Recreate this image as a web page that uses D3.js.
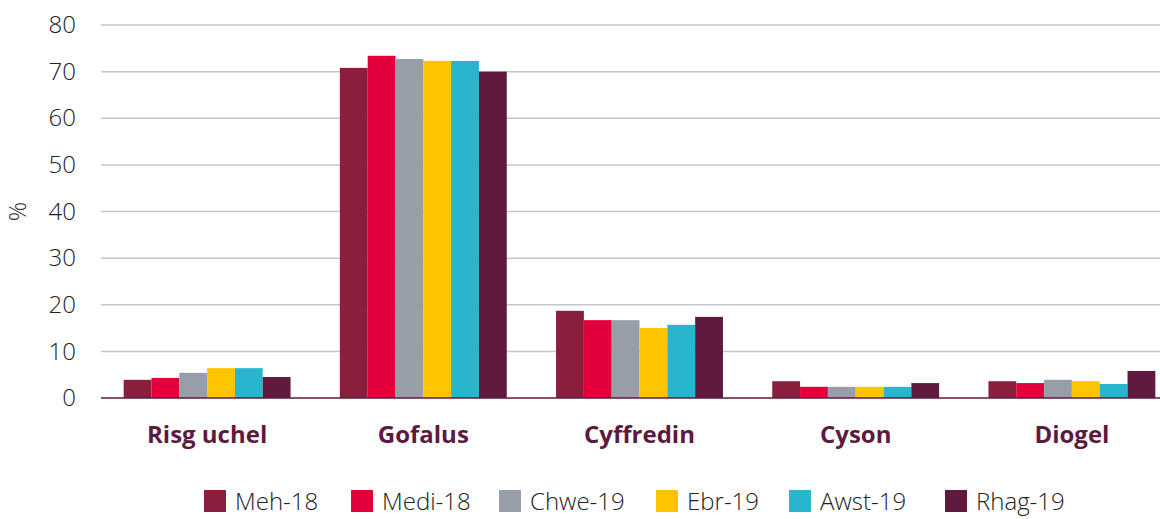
<!doctype html>
<html>
<head>
  <meta charset="utf-8">
  <title>Risg</title>
  <style>
    body { margin: 0; background: #fff; font-family: 'Open Sans', sans-serif; }
    .y-axis text { font-size: 24px; font-weight: 300; fill: #222; font-family: 'Open Sans', sans-serif; }
    .x-axis text { font-size: 24px; font-weight: 700; fill: #5e1a3e; font-family: 'Open Sans', sans-serif; }
    .legend text { font-size: 24px; font-weight: 300; fill: #222; }
  </style>
</head>
<body>
  <div id="chart"></div>
  <script src="https://cdnjs.cloudflare.com/ajax/libs/d3/7.8.5/d3.min.js"></script>
  <script>
    var categories = ["Risg uchel", "Gofalus", "Cyffredin", "Cyson", "Diogel"];
    var series = ["Meh-18", "Medi-18", "Chwe-19", "Ebr-19", "Awst-19", "Rhag-19"];
    var colors = ["#8a1f3d", "#e4003b", "#979ea9", "#ffc400", "#29b5ce", "#601a40"];
    var meh18  = [3.9, 70.8, 18.7, 3.6, 3.6];
    var medi18 = [4.3, 73.4, 16.7, 2.4, 3.2];
    var chwe19 = [5.4, 72.7, 16.7, 2.4, 3.9];
    var ebr19  = [6.4, 72.3, 15.0, 2.4, 3.6];
    var awst19 = [6.4, 72.3, 15.7, 2.4, 3.0];
    var rhag19 = [4.5, 70.0, 17.4, 3.2, 5.8];
    var yTicks = [0, 10, 20, 30, 40, 50, 60, 70, 80];

    var values = [meh18, medi18, chwe19, ebr19, awst19, rhag19];
    var data = [];
    categories.forEach(function (c, i) {
      series.forEach(function (s, j) {
        data.push({ cat: c, series: s, value: values[j][i] });
      });
    });

    var width = 1160, height = 519;
    var svg = d3.select("#chart").append("svg").attr("width", width).attr("height", height);

    var x0 = d3.scaleBand().domain(categories).range([99, 1180]).paddingInner(0.228).paddingOuter(0.114);
    var x1 = d3.scaleBand().domain(series).range([0, x0.bandwidth()]);
    var y = d3.scaleLinear().domain([0, 80]).range([398, 25]);
    var color = d3.scaleOrdinal().domain(series).range(colors);

    // gridlines
    svg.append("g")
      .selectAll("line")
      .data(yTicks.filter(d => d > 0))
      .join("line")
      .attr("x1", 101).attr("x2", width)
      .attr("y1", d => y(d)).attr("y2", d => y(d))
      .attr("stroke", "#c4c6cc").attr("stroke-width", 1.5);

    // y axis labels
    var yAxis = svg.append("g").attr("class", "y-axis")
      .attr("transform", "translate(86,0)")
      .call(d3.axisLeft(y).tickValues(yTicks).tickSize(0).tickPadding(10));
    yAxis.select(".domain").remove();

    svg.append("text")
      .attr("transform", "translate(26," + y(40) + ") rotate(-90)")
      .attr("text-anchor", "middle")
      .attr("font-size", 24).attr("font-weight", 300).attr("fill", "#222")
      .text("%");

    // bars
    svg.append("g")
      .selectAll("rect")
      .data(data)
      .join("rect")
      .attr("x", d => x0(d.cat) + x1(d.series))
      .attr("width", x1.bandwidth())
      .attr("y", d => y(d.value))
      .attr("height", d => y(0) - y(d.value))
      .attr("fill", d => color(d.series));

    // baseline
    svg.append("line")
      .attr("x1", 101).attr("x2", width)
      .attr("y1", y(0)).attr("y2", y(0))
      .attr("stroke", "#5e1a3e").attr("stroke-width", 1.5);

    // x axis labels
    var xAxis = svg.append("g").attr("class", "x-axis")
      .attr("transform", "translate(0," + y(0) + ")")
      .call(d3.axisBottom(x0).tickSize(0).tickPadding(28));
    xAxis.select(".domain").remove();

    // legend
    var legendX = [204, 351, 499, 656, 789, 945];
    var legend = svg.append("g").attr("class", "legend")
      .selectAll("g")
      .data(series)
      .join("g")
      .attr("transform", (d, i) => "translate(" + legendX[i] + ",490)");
    legend.append("rect").attr("width", 22).attr("height", 22).attr("fill", d => color(d));
    legend.append("text").attr("x", 31).attr("y", 20).text(d => d);
  </script>
</body>
</html>
